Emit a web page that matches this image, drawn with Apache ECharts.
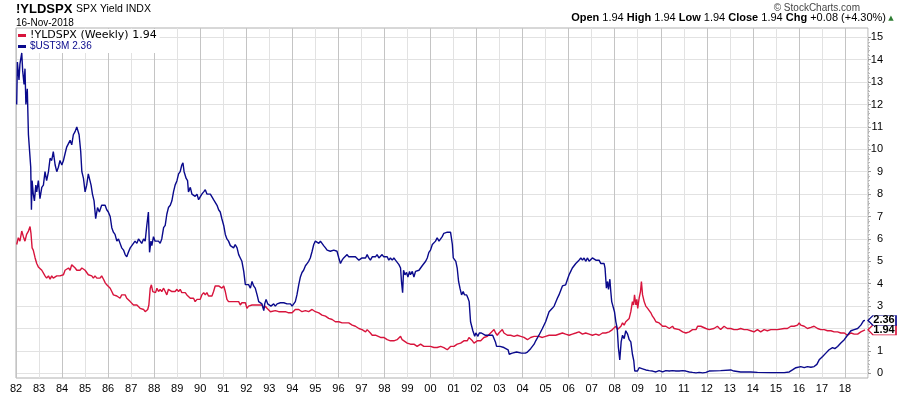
<!DOCTYPE html>
<html>
<head>
<meta charset="utf-8">
<script src="https://cdn.jsdelivr.net/npm/echarts@6/dist/echarts.min.js"></script>
<style>
html,body{margin:0;padding:0;background:#fff;}
#chart{width:900px;height:396px;}
</style>
</head>
<body>
<div id="chart"></div>
<script>
// ---- data (decimal year, value in %) ----
const ustDates = [1982.03,1982.06,1982.13,1982.17,1982.25,1982.29,1982.35,1982.39,1982.43,1982.49,1982.54,1982.61,1982.64,1982.67,1982.70,1982.75,1982.80,1982.86,1982.90,1982.97,
1983.04,1983.12,1983.19,1983.26,1983.33,1983.41,1983.48,1983.55,1983.62,1983.70,1983.77,1983.84,1983.91,1983.99,
1984.06,1984.13,1984.20,1984.28,1984.35,1984.42,1984.49,1984.57,1984.64,1984.70,1984.74,1984.81,1984.86,1984.93,
1985.00,1985.07,1985.14,1985.22,1985.26,1985.32,1985.39,1985.46,1985.54,1985.62,1985.72,1985.87,1985.94,
1986.01,1986.09,1986.16,1986.23,1986.30,1986.38,1986.45,1986.52,1986.59,1986.67,1986.74,1986.81,1986.88,1986.96,
1987.03,1987.10,1987.17,1987.25,1987.32,1987.39,1987.46,1987.54,1987.61,1987.68,1987.75,1987.80,1987.86,1987.90,1987.97,
1988.04,1988.12,1988.19,1988.26,1988.33,1988.41,1988.48,1988.55,1988.62,1988.70,1988.77,1988.84,1988.91,1988.99,
1989.06,1989.13,1989.20,1989.25,1989.30,1989.39,1989.45,1989.49,1989.57,1989.64,1989.71,1989.78,1989.86,1989.93,
1990.00,1990.07,1990.15,1990.22,1990.29,1990.36,1990.44,1990.51,1990.58,1990.65,1990.73,1990.80,1990.87,1990.94,
1991.02,1991.09,1991.16,1991.23,1991.31,1991.38,1991.45,1991.52,1991.60,1991.67,1991.74,1991.81,1991.89,1991.96,
1992.03,1992.10,1992.18,1992.25,1992.32,1992.39,1992.47,1992.54,1992.61,1992.68,1992.76,1992.80,1992.86,1992.93,
1993.00,1993.07,1993.19,1993.26,1993.34,1993.41,1993.48,1993.55,1993.63,1993.70,1993.77,1993.84,1993.92,1993.99,
1994.06,1994.13,1994.20,1994.28,1994.35,1994.42,1994.49,1994.57,1994.64,1994.71,1994.78,1994.86,1994.93,
1995.00,1995.07,1995.15,1995.22,1995.29,1995.36,1995.44,1995.51,1995.58,1995.65,1995.73,1995.80,1995.87,1995.94,
1996.02,1996.09,1996.16,1996.23,1996.31,1996.38,1996.45,1996.52,1996.60,1996.67,1996.74,1996.81,1996.89,1996.96,
1997.03,1997.10,1997.18,1997.25,1997.32,1997.39,1997.47,1997.54,1997.61,1997.68,1997.76,1997.83,1997.90,1997.97,
1998.05,1998.12,1998.19,1998.26,1998.34,1998.41,1998.48,1998.55,1998.63,1998.70,1998.74,1998.79,1998.83,1998.89,1998.96,
1999.02,1999.09,1999.13,1999.21,1999.28,1999.35,1999.42,1999.50,1999.57,1999.64,1999.71,1999.79,1999.86,1999.93,
2000.00,2000.08,2000.15,2000.22,2000.29,2000.37,2000.44,2000.51,2000.58,2000.66,2000.73,2000.80,2000.87,2000.90,2000.95,2000.99,
2001.05,2001.10,2001.16,2001.22,2001.28,2001.35,2001.42,2001.48,2001.57,2001.63,2001.68,2001.74,2001.80,2001.84,2001.92,2001.97,
2002.06,2002.12,2002.21,2002.29,2002.37,2002.44,2002.53,2002.61,2002.70,2002.76,2002.82,2002.87,
2003.02,2003.19,2003.37,2003.42,2003.55,2003.74,2003.95,
2004.12,2004.21,2004.28,2004.35,2004.50,2004.57,2004.71,2004.86,
2005.00,2005.15,2005.29,2005.37,2005.51,2005.58,2005.73,2005.87,2005.95,
2006.02,2006.09,2006.16,2006.31,2006.45,2006.53,2006.60,2006.67,2006.74,2006.82,2006.89,2006.96,
2007.03,2007.11,2007.18,2007.25,2007.32,2007.40,2007.47,2007.54,2007.58,2007.64,2007.69,2007.73,2007.79,2007.83,2007.87,2007.93,2007.99,
2008.05,2008.11,2008.16,2008.22,2008.28,2008.34,2008.41,2008.48,2008.56,2008.63,2008.70,2008.77,2008.83,2008.87,2008.92,2008.99,
2009.06,2009.21,2009.35,2009.50,2009.64,2009.79,2009.93,
2010.08,2010.22,2010.37,2010.51,2010.66,2010.80,2010.95,
2011.09,2011.24,2011.38,2011.53,2011.67,2011.82,2011.96,
2012.10,2012.60,2013.04,2013.18,2013.47,2013.91,2014.20,2014.78,2015.36,2015.58,2015.65,2015.72,2015.87,2015.94,
2016.08,2016.23,2016.37,2016.52,2016.66,2016.78,2016.88,2017.03,2017.17,2017.31,2017.46,2017.56,2017.68,2017.82,2017.97,
2018.11,2018.26,2018.40,2018.55,2018.69,2018.81,2018.87];
const ustValues = [12.0,13.9,13.1,13.8,14.3,13.5,12.9,13.6,12.0,12.7,10.65,10.65,9.2,7.3,8.6,8.0,7.7,8.4,8.1,8.6,
7.8,8.3,8.4,9.0,8.6,9.0,9.6,9.5,9.9,9.3,9.0,9.2,9.5,9.3,
9.5,9.8,10.1,10.1,10.4,10.2,10.65,10.8,11.0,10.95,10.65,9.9,9.0,8.7,
8.1,8.4,8.9,8.9,8.4,8.0,7.7,6.9,7.4,7.2,7.5,7.5,7.3,
7.2,7.0,6.5,6.3,6.2,5.9,6.0,5.8,5.6,5.5,5.3,5.2,5.4,5.6,
5.7,5.7,5.9,5.8,6.0,5.9,5.8,6.0,5.9,6.6,7.2,5.4,5.9,5.7,6.1,
5.9,5.9,5.9,5.8,6.0,6.5,6.6,7.1,7.4,7.5,7.7,8.1,8.4,8.6,
8.9,9.0,9.3,9.4,9.0,8.7,8.6,8.1,8.3,8.0,8.05,7.9,8.0,7.75,
7.8,8.0,8.1,8.2,8.0,8.05,8.0,8.0,7.75,7.7,7.5,7.3,7.2,6.9,
6.6,6.2,6.0,5.9,5.7,5.75,5.6,5.75,5.6,5.3,5.15,5.0,4.55,3.96,
3.9,3.96,3.8,4.1,3.9,3.8,3.5,3.2,3.15,3.1,2.8,3.1,3.3,3.1,
3.15,3.0,3.1,3.0,3.1,3.1,3.15,3.1,3.15,3.1,3.1,3.15,3.1,3.0,
3.1,3.2,3.5,3.96,4.3,4.5,4.6,4.8,4.9,5.0,5.15,5.45,5.75,
5.9,5.9,5.8,5.9,5.8,5.7,5.6,5.5,5.5,5.45,5.5,5.5,5.5,5.45,
5.15,4.9,5.05,5.15,5.15,5.3,5.2,5.15,5.2,5.15,5.2,5.15,5.05,5.0,
5.15,5.2,5.15,5.3,5.15,5.05,5.2,5.15,5.2,5.3,5.15,5.2,5.3,5.2,
5.15,5.2,5.05,5.15,5.05,5.15,5.05,5.0,4.85,4.7,4.1,3.6,4.6,4.4,4.5,
4.3,4.55,4.4,4.55,4.3,4.55,4.6,4.6,4.7,4.8,4.85,5.0,5.15,5.4,
5.5,5.75,5.8,5.9,6.05,5.9,6.0,6.1,6.25,6.2,6.3,6.25,6.3,6.1,5.75,5.15,
5.2,5.0,4.7,4.1,3.8,3.5,3.65,3.5,3.5,3.35,3.2,2.3,2.25,1.9,1.65,1.8,
1.65,1.8,1.8,1.8,1.7,1.7,1.7,1.65,1.7,1.65,1.4,1.2,
1.2,1.15,1.05,0.85,0.9,0.95,0.9,
0.9,0.95,0.95,1.1,1.3,1.45,1.7,2.0,
2.3,2.75,2.9,3.0,3.35,3.5,3.9,3.95,4.2,
4.4,4.55,4.7,4.9,5.05,5.15,5.05,5.15,5.0,5.15,5.0,5.05,
5.15,5.2,5.05,5.0,5.05,4.9,4.85,4.9,4.7,3.8,4.1,3.75,4.2,3.65,3.2,3.15,2.75,
2.3,2.0,1.15,0.6,1.4,1.7,1.55,1.9,1.75,1.5,1.4,0.85,0.55,0.1,0.15,0.1,
0.25,0.2,0.15,0.12,0.1,0.06,0.12,
0.06,0.12,0.1,0.12,0.1,0.1,0.12,
0.1,0.06,0.04,0.02,0.04,0.02,0.04,
0.1,0.12,0.15,0.1,0.06,0.06,0.04,0.03,0.03,0.06,0.1,0.15,0.25,0.27,
0.3,0.25,0.3,0.27,0.3,0.4,0.6,0.75,0.9,1.05,1.15,1.1,1.2,1.35,1.5,
1.7,1.9,1.95,2.0,2.15,2.35,2.36];

const yldDates = [1982.03,1982.10,1982.17,1982.25,1982.32,1982.39,1982.46,1982.54,1982.61,1982.65,1982.70,1982.75,1982.83,1982.90,1982.97,
1983.04,1983.12,1983.19,1983.26,1983.33,1983.41,1983.48,1983.55,1983.62,1983.77,1983.91,
1984.06,1984.13,1984.20,1984.28,1984.35,1984.42,1984.49,1984.57,1984.64,1984.71,1984.78,1984.86,1984.93,
1985.00,1985.07,1985.14,1985.22,1985.29,1985.36,1985.43,1985.51,1985.58,1985.65,1985.72,1985.80,1985.87,1985.94,
1986.01,1986.09,1986.16,1986.23,1986.30,1986.38,1986.45,1986.52,1986.59,1986.67,1986.74,1986.81,1986.88,1986.96,
1987.03,1987.10,1987.17,1987.25,1987.32,1987.39,1987.46,1987.54,1987.61,1987.68,1987.72,1987.77,1987.83,1987.88,1987.94,
1988.00,1988.06,1988.12,1988.19,1988.26,1988.33,1988.41,1988.48,1988.55,1988.62,1988.70,1988.77,1988.84,1988.91,1988.99,
1989.06,1989.13,1989.20,1989.28,1989.35,1989.42,1989.49,1989.57,1989.64,1989.71,1989.78,1989.86,1989.93,
1990.00,1990.07,1990.15,1990.22,1990.29,1990.36,1990.44,1990.51,1990.58,1990.65,1990.73,1990.80,1990.87,1990.94,
1991.02,1991.09,1991.16,1991.23,1991.31,1991.38,1991.45,1991.52,1991.60,1991.67,1991.74,1991.81,1991.89,1991.96,
1992.03,1992.10,1992.25,1992.39,1992.54,1992.68,1992.76,1992.83,1992.90,1992.97,
1993.05,1993.12,1993.26,1993.41,1993.55,1993.70,1993.84,1993.99,
1994.13,1994.28,1994.42,1994.57,1994.71,1994.86,1994.93,
1995.00,1995.15,1995.29,1995.44,1995.58,1995.73,1995.87,
1996.02,1996.16,1996.31,1996.45,1996.60,1996.74,1996.89,1996.96,
1997.03,1997.10,1997.18,1997.25,1997.32,1997.39,1997.47,1997.54,1997.61,1997.68,1997.83,1997.97,
1998.12,1998.26,1998.41,1998.55,1998.70,1998.77,1998.84,1998.99,
1999.13,1999.28,1999.42,1999.57,1999.71,1999.86,
2000.00,2000.15,2000.29,2000.44,2000.58,2000.73,2000.87,
2001.02,2001.16,2001.31,2001.45,2001.60,2001.67,2001.74,2001.82,2001.89,
2002.03,2002.18,2002.32,2002.47,2002.54,2002.61,2002.68,2002.76,2002.83,2002.90,2002.97,
2003.05,2003.12,2003.19,2003.34,2003.48,2003.63,2003.77,2003.92,
2004.06,2004.21,2004.35,2004.50,2004.57,2004.71,2004.86,
2005.00,2005.15,2005.44,2005.73,2005.87,
2006.02,2006.16,2006.31,2006.45,2006.60,2006.74,2006.89,
2007.03,2007.18,2007.32,2007.47,2007.61,2007.76,2007.90,
2008.05,2008.12,2008.19,2008.27,2008.34,2008.41,2008.48,2008.56,2008.63,2008.70,2008.77,2008.82,2008.86,2008.92,2008.96,
2009.00,2009.06,2009.12,2009.16,2009.21,2009.28,2009.35,2009.43,2009.50,2009.57,2009.64,2009.71,2009.79,2009.86,2009.93,
2010.08,2010.22,2010.37,2010.44,2010.51,2010.58,2010.66,2010.80,2010.95,
2011.09,2011.24,2011.38,2011.53,2011.60,2011.67,2011.74,2011.82,2011.96,
2012.10,2012.17,2012.31,2012.46,2012.60,2012.75,2012.89,
2013.04,2013.18,2013.33,2013.47,2013.62,2013.76,2013.91,
2014.05,2014.20,2014.34,2014.49,2014.63,2014.78,
2015.07,2015.36,2015.50,2015.65,2015.79,2015.94,
2016.01,2016.08,2016.23,2016.37,2016.52,2016.66,2016.81,2016.95,
2017.10,2017.24,2017.39,2017.53,2017.68,2017.82,2017.97,
2018.11,2018.26,2018.40,2018.55,2018.69,2018.87];
const yldValues = [5.75,6.05,5.9,6.35,6.1,5.9,6.2,6.35,6.55,6.25,5.6,5.5,5.15,4.9,4.75,
4.75,4.6,4.55,4.35,4.25,4.35,4.2,4.35,4.25,4.35,4.35,
4.4,4.6,4.55,4.7,4.6,4.85,4.9,4.7,4.6,4.55,4.6,4.7,4.75,
4.6,4.55,4.4,4.35,4.35,4.25,4.35,4.25,4.2,4.25,4.35,4.2,4.05,3.95,
3.9,3.8,3.65,3.5,3.45,3.45,3.5,3.35,3.5,3.45,3.5,3.35,3.3,3.2,
3.15,3.05,3.0,3.05,3.0,2.9,2.85,2.85,2.75,2.7,2.85,3.05,3.8,3.95,3.65,
3.65,3.6,3.8,3.65,3.75,3.65,3.8,3.65,3.5,3.75,3.8,3.65,3.6,3.65,3.75,
3.65,3.75,3.6,3.6,3.6,3.5,3.45,3.35,3.3,3.35,3.2,3.3,3.35,
3.3,3.5,3.6,3.5,3.6,3.45,3.5,3.45,3.65,3.9,3.95,3.9,3.95,3.8,
3.9,3.65,3.3,3.2,3.15,3.2,3.15,3.2,3.15,3.2,3.05,3.15,3.2,3.15,
2.9,3.0,3.05,3.05,3.05,3.05,2.9,3.0,2.9,2.85,
2.75,2.75,2.8,2.75,2.75,2.75,2.7,2.7,
2.85,2.85,2.75,2.8,2.75,2.85,2.9,
2.75,2.7,2.6,2.55,2.45,2.4,2.3,
2.3,2.25,2.25,2.25,2.15,2.1,2.0,2.0,
1.95,2.0,1.85,1.95,1.95,1.8,1.7,1.65,1.7,1.65,1.6,1.6,
1.5,1.45,1.45,1.5,1.65,1.5,1.45,1.35,
1.3,1.3,1.2,1.3,1.2,1.2,
1.2,1.15,1.15,1.2,1.15,1.05,1.2,
1.2,1.3,1.35,1.45,1.45,1.6,1.6,1.45,1.35,
1.45,1.45,1.6,1.65,1.7,1.8,1.85,1.95,1.8,1.7,1.8,
1.85,1.95,1.8,1.7,1.7,1.65,1.7,1.65,
1.6,1.5,1.6,1.65,1.7,1.65,1.6,
1.65,1.7,1.7,1.8,1.75,
1.7,1.75,1.8,1.85,1.75,1.8,1.75,
1.7,1.75,1.7,1.8,1.8,1.85,1.95,
2.1,1.95,2.0,2.1,2.25,2.15,2.3,2.3,2.45,2.75,3.2,3.05,3.5,3.05,3.3,
2.9,3.35,3.65,4.1,3.5,3.2,3.0,2.9,2.85,2.7,2.55,2.45,2.3,2.25,2.25,
2.1,2.1,2.0,1.95,2.1,2.0,2.0,1.95,1.85,
1.8,1.85,1.95,1.95,2.1,2.15,2.1,2.15,2.0,
1.95,1.95,2.0,2.1,1.95,2.1,2.0,
2.0,1.95,1.95,2.0,1.95,1.95,1.9,
1.85,1.95,1.85,1.95,1.9,1.95,
1.95,2.0,2.0,2.1,2.1,2.15,
2.25,2.15,2.1,2.0,2.05,2.1,2.0,1.95,
1.95,1.9,1.9,1.85,1.85,1.8,1.8,
1.7,1.8,1.75,1.75,1.85,1.94];

const yearTicks = {min: 1982, max: 2019};
const yLabels = {min: 0, max: 15};
const seriesNames = ['!YLDSPX (Weekly) 1.94', '$UST3M 2.36'];

// ---- chart ----
const RED = '#d8143c';
const BLUE = '#0a0a8c';
const pairs = (d, v) => d.map((x, i) => [x, v[i]]);
const lastOf = a => a[a.length - 1];

const chart = echarts.init(document.getElementById('chart'), null, {renderer: 'canvas'});

const endBox = (val, color) => ({
  symbol: 'path://M0,5 L5,0 L28,0 L28,10 L5,10 Z',
  symbolSize: [28, 10],
  symbolKeepAspect: false,
  symbolOffset: [14, 0],
  data: [{coord: [yearTicks.max, val], value: val.toFixed(2)}],
  itemStyle: {color: '#fff', borderColor: color, borderWidth: 1},
  label: {show: true, position: 'inside', offset: [2, 0], color: '#000',
          fontFamily: 'Liberation Sans', fontWeight: 'bold', fontSize: 11,
          formatter: p => p.value},
  z: 10
});

const option = {
  animation: false,
  backgroundColor: '#fff',
  grid: [
    {left: 16, right: 32, top: 28, height: 350, show: true, borderColor: '#b0b0b0', borderWidth: 1, backgroundColor: '#fff', z: 0},
    {left: 16, right: 32, top: 37.3, height: 336, show: false}
  ],
  xAxis: [
    {type: 'value', gridIndex: 0, min: yearTicks.min, max: yearTicks.max, interval: 1,
     axisLine: {show: false}, axisTick: {show: false},
     axisLabel: {color: '#000', fontFamily: 'Liberation Sans', fontSize: 11, margin: 5,
                 formatter: v => v >= yearTicks.max ? '' : String(v % 100).padStart(2, '0')},
     splitLine: {show: true, lineStyle: {color: ['#c4c4c4', '#e2e2e2'], width: 1}}},
    {type: 'value', gridIndex: 1, min: yearTicks.min, max: yearTicks.max, show: false}
  ],
  yAxis: [
    {type: 'value', gridIndex: 0, min: 0, max: 1, show: false},
    {type: 'value', gridIndex: 1, position: 'right', min: yLabels.min, max: yLabels.max, interval: 1,
     axisLine: {show: true, lineStyle: {color: '#b0b0b0', type: [1, 2]}},
     axisTick: {show: true, length: 3, lineStyle: {color: '#999'}},
     minorTick: {show: true, splitNumber: 5, length: 2, lineStyle: {color: '#bbb'}},
     axisLabel: {color: '#000', fontFamily: 'Liberation Sans', fontSize: 11, margin: 15, align: 'right'},
     splitLine: {show: true, lineStyle: {color: '#e2e2e2', width: 1}}}
  ],
  legend: {
    orient: 'vertical', left: 17, top: 29, itemGap: 0, itemWidth: 8, itemHeight: 3,
    icon: 'rect', backgroundColor: '#fff', padding: [1, 3, 1, 1],
    data: [
      {name: seriesNames[0], textStyle: {color: '#000', fontFamily: 'DejaVu Sans', fontSize: 11, lineHeight: 11}},
      {name: seriesNames[1], textStyle: {color: BLUE, fontFamily: 'Liberation Sans', fontSize: 10, lineHeight: 11}}
    ],
    textStyle: {padding: [0, 0, 0, -1]}
  },
  series: [
    {name: seriesNames[0], type: 'line', xAxisIndex: 1, yAxisIndex: 1, data: pairs(yldDates, yldValues),
     showSymbol: false, symbol: 'none', lineStyle: {color: RED, width: 1.4}, itemStyle: {color: RED}, z: 3,
     markPoint: endBox(lastOf(yldValues), RED)},
    {name: seriesNames[1], type: 'line', xAxisIndex: 1, yAxisIndex: 1, data: pairs(ustDates, ustValues),
     showSymbol: false, symbol: 'none', lineStyle: {color: BLUE, width: 1.4}, itemStyle: {color: BLUE}, z: 4,
     markPoint: endBox(lastOf(ustValues), BLUE)}
  ],
  graphic: [
    {type: 'text', x: 16, y: 9, style: {text: '!YLDSPX', font: 'bold 13px "Liberation Sans"', fill: '#000', verticalAlign: 'middle'}},
    {type: 'text', x: 76, y: 9, style: {text: 'SPX Yield INDX', font: '10.5px "Liberation Sans"', fill: '#000', verticalAlign: 'middle'}},
    {type: 'text', x: 16, y: 23, style: {text: '16-Nov-2018', font: '10px "Liberation Sans"', fill: '#000', verticalAlign: 'middle'}},
    {type: 'text', x: 860, y: 8, style: {text: '\u00a9 StockCharts.com', font: '10px "Liberation Sans"', fill: '#444', align: 'right', verticalAlign: 'middle'}},
    {type: 'text', x: 886, y: 18, style: {
      text: '{b|Open} 1.94 {b|High} 1.94 {b|Low} 1.94 {b|Close} 1.94 {b|Chg} +0.08 (+4.30%)',
      font: '11px "Liberation Sans"', fill: '#000', align: 'right', verticalAlign: 'middle',
      rich: {b: {fontWeight: 'bold', fontSize: 11, fontFamily: 'Liberation Sans', fill: '#000'}}}},
    {type: 'text', x: 891, y: 18, style: {text: '\u25b2', font: '7px "DejaVu Sans"', fill: '#2e7d32', align: 'center', verticalAlign: 'middle'}}
  ]
};
chart.setOption(option);
</script>
</body>
</html>
